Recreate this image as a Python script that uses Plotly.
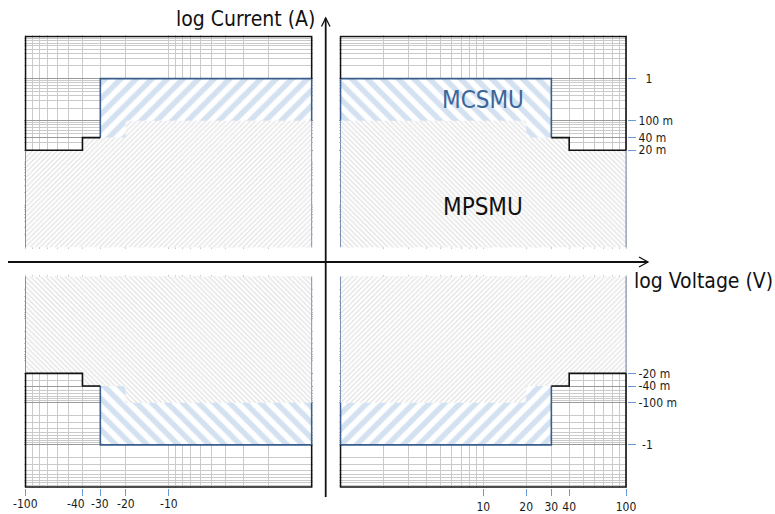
import math
import plotly.graph_objects as go

# ---------------- data ----------------
V_MC = 30.0                     # MCSMU voltage limit (V)
I_MC = 1.0                      # MCSMU current limit (A)
V_MP = [20.0, 40.0, 100.0]      # MPSMU voltage breakpoints (V)
I_MP = [0.1, 0.04, 0.02]        # MPSMU current limits (A)
V_RANGE = [1.0, 100.0]          # |V| axis extent
I_RANGE = [1e-4, 10.0]          # |I| axis extent

X_TICKS_POS = [10, 20, 30, 40, 100]
X_TEXT_POS = ["10", "20", "30", "40", "100"]
X_TICKS_NEG = [100, 40, 30, 20, 10]
X_TEXT_NEG = ["-100", "-40", "-30", "-20", "-10"]
Y_TICKS = [1, 0.1, 0.04, 0.02]
Y_TEXT_POS = ["\u00a0\u00a01", "100 m", "40 m", "20 m"]
Y_TEXT_NEG = ["\u00a0-1", "-100 m", "-40 m", "-20 m"]

# ---------------- styling ----------------
W, H = 775, 514
FONT = "DejaVu Sans Condensed, DejaVu Sans, sans-serif"
BLUE_TICK = "#6a9ad4"
NAVY = "#3b5d8c"
EDGE = "#7d8fb3"
BLUE_HATCH = "#a9c4e4"
GREY_HATCH = "#c4c4c4"
GRID_MINOR = "#cacaca"
GRID_MAJOR = "#9a9a9a"
PAD = 1.2
LABEL_NUDGE = {"-40": -6}        # px shift for crowded tick labels

XL = (25.5, 311.7)
XR = (340.5, 626.0)
YT = (36.5, 247.3)
YB = (276.5, 487.0)

lx0, lx1 = math.log10(V_RANGE[0]), math.log10(V_RANGE[1])
ly0, ly1 = math.log10(I_RANGE[0]), math.log10(I_RANGE[1])

minor_vals = [n * 10 ** k for k in range(-5, 3) for n in range(1, 10)]
minor_x = [v for v in minor_vals if V_RANGE[0] < v < V_RANGE[1]]
minor_y = [v for v in minor_vals if I_RANGE[0] < v < I_RANGE[1]]


def xaxis_cfg(px, reverse, ticks, texts, show_ticks, show_labels, anchor):
    ppu = (px[1] - px[0]) / (lx1 - lx0)
    pu = PAD / ppu
    rng = [lx0 - pu, lx1 + pu]
    if reverse:
        rng = rng[::-1]
    return dict(
        type="log", range=rng, domain=[(px[0] - PAD) / W, (px[1] + PAD) / W],
        anchor=anchor, automargin=False, tickangle=0,
        tickmode="array", tickvals=ticks, ticktext=texts,
        showticklabels=show_labels, ticks="outside" if show_ticks else "",
        ticklen=7, tickcolor=BLUE_TICK, tickwidth=1.3,
        tickfont=dict(family=FONT, size=12, color="#1a1a1a"),
        showgrid=True, gridcolor=GRID_MINOR, gridwidth=1,
        minor=dict(tickmode="array", tickvals=minor_x, showgrid=True,
                   gridcolor=GRID_MINOR, gridwidth=1, ticks=""),
        showline=False, zeroline=False, fixedrange=True,
    )


def yaxis_cfg(px, reverse, texts, show_labels, anchor):
    ppu = (px[1] - px[0]) / (ly1 - ly0)
    pu = PAD / ppu
    rng = [ly0 - pu, ly1 + pu]
    if reverse:
        rng = rng[::-1]
    return dict(
        type="log", range=rng, domain=[1 - (px[1] + PAD) / H, 1 - (px[0] - PAD) / H],
        anchor=anchor, side="right", automargin=False,
        tickmode="array", tickvals=Y_TICKS, ticktext=texts,
        showticklabels=show_labels, ticks="outside" if show_labels else "",
        ticklen=8, tickcolor=BLUE_TICK, tickwidth=1.3,
        tickfont=dict(family=FONT, size=12, color="#1a1a1a"),
        showgrid=True, gridcolor=GRID_MAJOR, gridwidth=1,
        minor=dict(tickmode="array", tickvals=minor_y, showgrid=True,
                   gridcolor=GRID_MINOR, gridwidth=1, ticks=""),
        showline=False, zeroline=False, fixedrange=True,
    )


fig = go.Figure()

# polygons (magnitudes)
mc_x = [V_RANGE[0], V_RANGE[0], V_MC, V_MC, V_RANGE[0]]
mc_y = [I_RANGE[0], I_MC, I_MC, I_RANGE[0], I_RANGE[0]]

mp_x = [V_RANGE[0]]
mp_y = [I_RANGE[0]]
prev_v = V_RANGE[0]
for v, i in zip(V_MP, I_MP):
    mp_x += [prev_v, v]
    mp_y += [i, i]
    prev_v = v
mp_x += [V_MP[-1], V_RANGE[0]]
mp_y += [I_RANGE[0], I_RANGE[0]]

# outlines
frame_x = [V_RANGE[0], V_RANGE[0], V_RANGE[1], V_RANGE[1]]
frame_y = [I_MC, I_RANGE[1], I_RANGE[1], I_MP[-1]]
mc_out_x = [V_RANGE[0], V_RANGE[0], V_MC, V_MC]
mc_out_y = [I_MP[0], I_MC, I_MC, I_MP[1]]
step_x = [V_MC, V_MP[1], V_MP[1], V_MP[2]]
step_y = [I_MP[1], I_MP[1], I_MP[2], I_MP[2]]

quads = [
    ("x", "y", "/"),
    ("x2", "y2", "\\"),
    ("x3", "y3", "\\"),
    ("x4", "y4", "/"),
]

for xa, ya, pat in quads:
    fig.add_trace(go.Scatter(
        x=mc_x, y=mc_y, xaxis=xa, yaxis=ya, mode="lines", fill="toself",
        fillcolor="white", line=dict(width=0, color=BLUE_HATCH),
        fillpattern=dict(shape=pat, fgcolor=BLUE_HATCH, bgcolor="white",
                         size=11, solidity=0.5, fillmode="overlay"),
        hoverinfo="skip", showlegend=False))
    fig.add_trace(go.Scatter(
        x=mp_x, y=mp_y, xaxis=xa, yaxis=ya, mode="lines", fill="toself",
        fillcolor="white", line=dict(width=0, color=GREY_HATCH),
        fillpattern=dict(shape=pat, fgcolor=GREY_HATCH, bgcolor="white",
                         size=3.5, solidity=0.35, fillmode="overlay"),
        hoverinfo="skip", showlegend=False))
    fig.add_trace(go.Scatter(
        x=[V_RANGE[0], V_RANGE[0], None, V_RANGE[1], V_RANGE[1]],
        y=[I_RANGE[0], I_MP[0], None, I_RANGE[0], I_MP[-1]],
        xaxis=xa, yaxis=ya, mode="lines", line=dict(width=1, color=EDGE),
        hoverinfo="skip", showlegend=False))
    fig.add_trace(go.Scatter(
        x=mc_out_x, y=mc_out_y, xaxis=xa, yaxis=ya, mode="lines",
        line=dict(width=1.6, color=NAVY), hoverinfo="skip", showlegend=False))
    fig.add_trace(go.Scatter(
        x=frame_x, y=frame_y, xaxis=xa, yaxis=ya, mode="lines",
        line=dict(width=1.6, color="#111111"), hoverinfo="skip", showlegend=False))
    fig.add_trace(go.Scatter(
        x=step_x, y=step_y, xaxis=xa, yaxis=ya, mode="lines",
        line=dict(width=1.6, color="#111111"), hoverinfo="skip", showlegend=False))

fig.update_layout(
    template="none",
    width=W, height=H, margin=dict(l=0, r=0, t=0, b=0, pad=0, autoexpand=False),
    paper_bgcolor="white", plot_bgcolor="white", showlegend=False,
    font=dict(family=FONT, color="#111111"),
    xaxis=xaxis_cfg(XL, True, X_TICKS_NEG, X_TEXT_NEG, False, False, "y"),
    xaxis2=xaxis_cfg(XR, False, X_TICKS_POS, X_TEXT_POS, False, False, "y2"),
    xaxis3=xaxis_cfg(XL, True, X_TICKS_NEG, X_TEXT_NEG, True, False, "y3"),
    xaxis4=xaxis_cfg(XR, False, X_TICKS_POS, X_TEXT_POS, True, True, "y4"),
    yaxis=yaxis_cfg(YT, False, Y_TEXT_POS, False, "x"),
    yaxis2=yaxis_cfg(YT, False, Y_TEXT_POS, True, "x2"),
    yaxis3=yaxis_cfg(YB, True, Y_TEXT_NEG, False, "x3"),
    yaxis4=yaxis_cfg(YB, True, Y_TEXT_NEG, True, "x4"),
)


def px2paper(x, y):
    return x / W, 1 - y / H


# tick labels of the bottom-left quadrant (negative voltages)
for v, t in zip(X_TICKS_NEG, X_TEXT_NEG):
    fig.add_annotation(text=t, xref="x3", yref="paper", x=math.log10(v),
                       y=1 - 504 / H, xanchor="center", yanchor="middle",
                       xshift=LABEL_NUDGE.get(t, 0), showarrow=False,
                       font=dict(family=FONT, size=12, color="#1a1a1a"))

# central axes with open arrow heads
ax_x, ax_y = 325.7, 262.0
x0p, y0p = px2paper(ax_x, 497)
x1p, y1p = px2paper(ax_x, 18)
fig.add_shape(type="line", xref="paper", yref="paper", x0=x0p, y0=y0p, x1=x1p, y1=y1p,
              line=dict(color="#111111", width=1.8))
x0p, y0p = px2paper(8, ax_y)
x1p, y1p = px2paper(648, ax_y)
fig.add_shape(type="line", xref="paper", yref="paper", x0=x0p, y0=y0p, x1=x1p, y1=y1p,
              line=dict(color="#111111", width=1.8))


def chevron(points):
    p = [px2paper(a, b) for a, b in points]
    return "M {},{} L {},{} L {},{}".format(p[0][0], p[0][1], p[1][0], p[1][1], p[2][0], p[2][1])


fig.add_shape(type="path", xref="paper", yref="paper",
              path=chevron([(321.5, 26.5), (ax_x, 18), (330, 26.5)]),
              line=dict(color="#111111", width=1.3))
fig.add_shape(type="path", xref="paper", yref="paper",
              path=chevron([(639, 257), (648, ax_y), (639, 267)]),
              line=dict(color="#111111", width=1.3))

# axis titles
px_, py_ = px2paper(317, 19)
fig.add_annotation(text="log Current (A)", xref="paper", yref="paper", x=px_, y=py_,
                   xanchor="right", yanchor="middle", showarrow=False,
                   font=dict(family=FONT, size=21, color="#111111"))
px_, py_ = px2paper(632, 281)
fig.add_annotation(text="log Voltage (V)", xref="paper", yref="paper", x=px_, y=py_,
                   xanchor="left", yanchor="middle", showarrow=False,
                   font=dict(family=FONT, size=21, color="#111111"))

# region labels (top-right quadrant)
xc = (lx0 + lx1) / 2
fig.add_annotation(text="MCSMU", xref="x2", yref="y2", x=xc,
                   y=(math.log10(I_MP[0]) + math.log10(I_MC)) / 2,
                   showarrow=False, font=dict(family=FONT, size=24, color="#3d6699"))
fig.add_annotation(text="MPSMU", xref="x2", yref="y2", x=xc, y=-3.05,
                   showarrow=False, font=dict(family=FONT, size=24, color="#111111"))

fig.write_html("out.html")
